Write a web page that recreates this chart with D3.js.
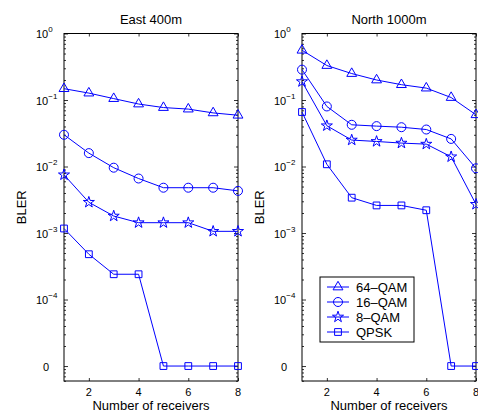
<!DOCTYPE html>
<html>
<head>
<meta charset="utf-8">
<script src="https://cdn.jsdelivr.net/npm/d3@7"></script>
<style>
  body { margin: 0; background: #fff; }
  svg { display: block; font-family: "Liberation Sans", Arial, sans-serif; }
</style>
</head>
<body>
<div id="chart"></div>
<script>
// receivers on the x axis
const receivers = [1, 2, 3, 4, 5, 6, 7, 8];
const seriesNames = ["64\u2013QAM", "16\u2013QAM", "8\u2013QAM", "QPSK"];
const panelTitles = ["East 400m", "North 1000m"];

// BLER values (0 = no block errors)
const east64 = [0.148, 0.127, 0.105, 0.087, 0.077, 0.073, 0.064, 0.059];
const east16 = [0.030, 0.0159, 0.0096, 0.0066, 0.0048, 0.0048, 0.0048, 0.0043];
const east8 = [0.0075, 0.0029, 0.0018, 0.00143, 0.00143, 0.00143, 0.00106, 0.00106];
const eastQ = [0.00117, 0.00048, 0.00024, 0.00024, 0, 0, 0, 0];

const north64 = [0.56, 0.33, 0.25, 0.20, 0.17, 0.151, 0.109, 0.06];
const north16 = [0.286, 0.080, 0.0424, 0.0405, 0.039, 0.036, 0.026, 0.0094];
const north8 = [0.189, 0.041, 0.025, 0.0238, 0.0225, 0.0217, 0.014, 0.0027];
const northQ = [0.066, 0.0108, 0.0034, 0.0026, 0.0026, 0.0022, 0, 0];

const xTicks = [2, 4, 6, 8];
const yExps = [0, -1, -2, -3, -4];   // labelled decades, plus "0"
const zeroPos = 1e-5;                  // where the fake "0" sits

const panels = [
  { title: panelTitles[0], data: [east64, east16, east8, eastQ], left: 64 },
  { title: panelTitles[1], data: [north64, north16, north8, northQ], left: 302 }
];

const W = 478, H = 416;
const plotTop = 33.5, plotBottom = 381, pw = 174;
const blue = "#0000ff";

const svg = d3.select("#chart").append("svg")
  .attr("width", W).attr("height", H);

const y = d3.scaleLog().domain([Math.pow(10, -5.225), 1]).range([plotBottom, plotTop]);
const yv = v => y(v === 0 ? zeroPos : v);

// minor ticks
const minors = [];
for (let e = -6; e <= -1; e++) {
  for (let m = 2; m <= 9; m++) {
    const v = m * Math.pow(10, e);
    if (v >= y.domain()[0] && v <= 1) minors.push(v);
  }
}
const majors = yExps.map(e => Math.pow(10, e)).concat([zeroPos]);

const markers = ["triangle", "circle", "star", "square"];

function drawMarker(g, type, cx, cy) {
  if (type === "circle") {
    g.append("circle").attr("cx", cx).attr("cy", cy).attr("r", 4.5)
      .attr("fill", "none").attr("stroke", blue).attr("stroke-width", 1);
    return;
  }
  let sym, size;
  if (type === "triangle") { sym = d3.symbolTriangle; size = 42; }
  if (type === "star") { sym = d3.symbolStar; size = 38; }
  if (type === "square") { sym = d3.symbolSquare; size = 46; }
  g.append("path").attr("d", d3.symbol(sym, size)())
    .attr("transform", "translate(" + cx + "," + cy + ")")
    .attr("fill", "none").attr("stroke", blue).attr("stroke-width", 1);
}

panels.forEach(function(p, pi) {
  const x = d3.scaleLinear().domain([1, 8]).range([p.left, p.left + pw]);
  const g = svg.append("g");

  // ticks inside the box on all four sides
  g.append("g").attr("transform", "translate(0," + plotBottom + ")")
    .call(d3.axisBottom(x).tickValues(xTicks).tickSize(-3).tickFormat(""));
  g.append("g").attr("transform", "translate(0," + plotTop + ")")
    .call(d3.axisTop(x).tickValues(xTicks).tickSize(-3).tickFormat(""));
  g.append("g").attr("transform", "translate(" + p.left + ",0)")
    .call(d3.axisLeft(y).tickValues(majors).tickSize(-4).tickFormat(""));
  g.append("g").attr("transform", "translate(" + p.left + ",0)")
    .call(d3.axisLeft(y).tickValues(minors).tickSize(-2).tickFormat(""));
  g.append("g").attr("transform", "translate(" + (p.left + pw) + ",0)")
    .call(d3.axisRight(y).tickValues(majors).tickSize(-4).tickFormat(""));
  g.append("g").attr("transform", "translate(" + (p.left + pw) + ",0)")
    .call(d3.axisRight(y).tickValues(minors).tickSize(-2).tickFormat(""));
  g.selectAll(".domain").remove();
  g.selectAll(".tick line").attr("stroke", "#000").attr("stroke-width", 0.8);

  g.append("rect").attr("x", p.left).attr("y", plotTop)
    .attr("width", pw).attr("height", plotBottom - plotTop)
    .attr("fill", "none").attr("stroke", "#000").attr("stroke-width", 1);

  // x tick labels
  g.selectAll(".xl").data(xTicks).enter().append("text")
    .attr("x", d => x(d)).attr("y", 396)
    .attr("text-anchor", "middle").attr("font-size", 11).text(d => d);

  // y tick labels 10^e
  yExps.forEach(function(e) {
    const t = g.append("text").attr("x", p.left - 28).attr("y", y(Math.pow(10, e)) + 4.5)
      .attr("font-size", 11);
    t.append("tspan").text("10");
    t.append("tspan").attr("dy", -6).attr("font-size", 8).text(e === 0 ? "0" : "\u2212" + (-e));
  });
  g.append("text").attr("x", p.left - 18).attr("y", y(zeroPos) + 4.5)
    .attr("text-anchor", "middle").attr("font-size", 11).text("0");

  // titles and axis labels
  g.append("text").attr("x", p.left + pw / 2).attr("y", 24)
    .attr("text-anchor", "middle").attr("font-size", 13).text(p.title);
  g.append("text").attr("x", p.left + pw / 2).attr("y", 410)
    .attr("text-anchor", "middle").attr("font-size", 13).text("Number of receivers");
  g.append("text")
    .attr("transform", "translate(" + (p.left - 38) + "," + ((plotTop + plotBottom) / 2) + ") rotate(-90)")
    .attr("text-anchor", "middle").attr("font-size", 13).text("BLER");

  // series
  const line = d3.line().x((d, i) => x(receivers[i])).y(d => yv(d));
  p.data.forEach(function(vals, si) {
    g.append("path").datum(vals).attr("d", line)
      .attr("fill", "none").attr("stroke", blue).attr("stroke-width", 1);
    vals.forEach(function(v, i) {
      drawMarker(g, markers[si], x(receivers[i]), yv(v));
    });
  });

  // legend in the second panel
  if (pi === 1) {
    const lx = 320, ly = 277, lw = 94, lh = 65;
    const lg = svg.append("g");
    lg.append("rect").attr("x", lx).attr("y", ly).attr("width", lw).attr("height", lh)
      .attr("fill", "#fff").attr("stroke", "#000").attr("stroke-width", 1);
    seriesNames.forEach(function(name, si) {
      const cy = ly + 10 + si * 15;
      lg.append("line").attr("x1", lx + 7).attr("x2", lx + 29)
        .attr("y1", cy).attr("y2", cy).attr("stroke", blue).attr("stroke-width", 1);
      drawMarker(lg, markers[si], lx + 18, cy);
      lg.append("text").attr("x", lx + 36).attr("y", cy + 4.5)
        .attr("font-size", 13).text(name);
    });
  }
});
</script>
</body>
</html>
